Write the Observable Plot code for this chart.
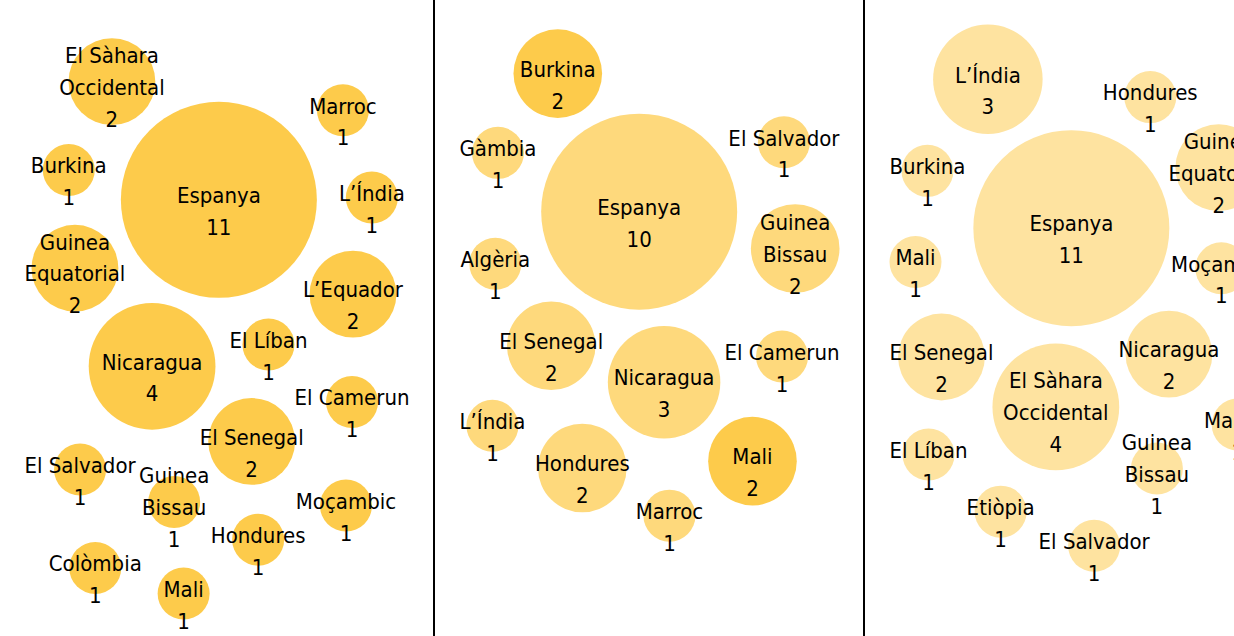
<!DOCTYPE html>
<html>
<head>
<meta charset="utf-8">
<script src="https://cdn.jsdelivr.net/npm/d3@7"></script>
<script src="https://cdn.jsdelivr.net/npm/@observablehq/plot@0.6"></script>
<style>
  html, body { margin: 0; padding: 0; background: #fff; overflow: hidden; }
  #wrap { display: flex; width: 1400px; align-items: flex-start; }
  .panel { flex: none; }
  .panel svg { display: block; }
</style>
</head>
<body>
<div id="wrap"></div>
<script>
// ---------- DATA ----------
const countries1 = ["Espanya", "Nicaragua", "El Sàhara Occidental", "El Senegal", "Guinea Equatorial", "L’Equador",
  "Guinea Bissau", "Burkina", "El Camerun", "Colòmbia", "L’Índia", "Hondures", "El Salvador", "El Líban", "Mali", "Marroc", "Moçambic"];
const values1 = [11, 4, 2, 2, 2, 2, 1, 1, 1, 1, 1, 1, 1, 1, 1, 1, 1];

const countries2 = ["Espanya", "Nicaragua", "Burkina", "Mali", "El Senegal", "Guinea Bissau", "Hondures",
  "Gàmbia", "El Camerun", "L’Índia", "El Salvador", "Marroc", "Algèria"];
const values2 = [10, 3, 2, 2, 2, 2, 2, 1, 1, 1, 1, 1, 1];
const highlighted2 = ["Burkina", "Mali"];

const countries3 = ["Espanya", "El Sàhara Occidental", "L’Índia", "Nicaragua", "El Senegal", "Guinea Equatorial",
  "Guinea Bissau", "Burkina", "Marroc", "El Líban", "Hondures", "El Salvador", "Mali", "Moçambic", "Etiòpia"];
const values3 = [11, 4, 3, 2, 2, 2, 1, 1, 1, 1, 1, 1, 1, 1, 1];

// ---------- STYLE ----------
const FONT = '"DejaVu Sans Condensed", "DejaVu Sans", sans-serif';
const FONT_SIZE = 22;
const BASE = "#FDCB4B";
const H = 660;

function wrapName(name) {
  if (name.length <= 12) return name;
  const mid = name.length / 2;
  let best = -1;
  for (let i = 0; i < name.length; i++) if (name[i] === " " && (best < 0 || Math.abs(i - mid) < Math.abs(best - mid))) best = i;
  return best < 0 ? name : name.slice(0, best) + "\n" + name.slice(best + 1);
}

const ctx = document.createElement("canvas").getContext("2d");
ctx.font = `${FONT_SIZE}px ${FONT}`;

function makePanel(countries, values, opts) {
  const W = opts.width;
  const rOpts = {type: "pow", exponent: 0.2, domain: [1, d3.max(values)], range: [26, 98]};
  let rs;
  try { rs = Plot.scale({r: rOpts}); } catch (e) { rs = null; }
  const rf = rs ? (v) => rs.apply(v) : d3.scalePow().exponent(0.2).domain(rOpts.domain).range(rOpts.range);

  const nodes = countries.map((c, i) => {
    const label = wrapName(c);
    const lines = label.split("\n");
    const lw = d3.max(lines, l => ctx.measureText(l).width);
    return {name: c, label, lines: lines.length, value: values[i], r: rf(values[i]), lw,
      hl: (opts.highlight || []).includes(c)};
  });
  const sorted = d3.sort(nodes, (a, b) => d3.descending(a.value, b.value));
  const rMax = d3.max(sorted, d => d.r), rMin = d3.min(sorted, d => d.r);
  const cx = W * 0.47, cy = 222;
  // smaller bubbles settle lower, the largest bubble anchors the top
  const ty = d => cy + Math.pow(1 - (d.r - rMin) / (rMax - rMin), 3) * 150;
  const golden = Math.PI * (3 - Math.sqrt(5));
  sorted.forEach((d, i) => {
    const rad = 10 * Math.sqrt(0.5 + i), a = i * golden;
    d.x = cx + rad * Math.cos(a);
    d.y = cy + rad * Math.sin(a);
    d.cr = Math.max(d.r + 9, 46, d.lw / 2 - 2);
  });
  const pull = d => 0.015 + 0.2 * Math.pow(d.r / rMax, 3);
  const N = 1500;
  const sim = d3.forceSimulation(sorted)
    .alpha(1)
    .alphaMin(0.0005)
    .alphaDecay(1 - Math.pow(0.0005, 1 / N))
    .velocityDecay(0.3)
    .force("x", d3.forceX(cx).strength(pull))
    .force("y", d3.forceY(ty).strength(pull))
    .force("collide", d3.forceCollide(d => d.cr).strength(1).iterations(6))
    .stop();
  const pad = 24;
  for (let i = 0; i < N; i++) {
    sim.tick();
    for (const d of sorted) {
      const hw = Math.max(d.r, d.lw / 2);
      d.x = Math.max(hw + pad, Math.min(W - hw - pad, d.x));
      d.y = Math.max(d.r + pad, Math.min(H - d.r - 5, d.y));
    }
  }

  const fillOf = d => d3.interpolateRgb("#ffffff", BASE)(d.hl ? 1 : opts.opacity);
  const textOpts = (dy, filter) => ({
    x: "x", y: "y", text: d => d.label + "\n" + d.value, filter,
    fontSize: FONT_SIZE, lineHeight: 1.45, dy, fill: "#000", fontFamily: FONT
  });
  return Plot.plot({
    width: W, height: H, margin: 0,
    style: {background: "transparent", fontFamily: FONT},
    x: {domain: [0, W], range: [0, W], axis: null},
    y: {domain: [0, H], range: [0, H], axis: null},
    r: rOpts,
    marks: [
      Plot.dot(sorted, {x: "x", y: "y", r: "value", fill: fillOf, stroke: null}),
      Plot.text(sorted, textOpts(9, d => d.lines === 1)),
      Plot.text(sorted, textOpts(3, d => d.lines > 1))
    ]
  });
}

const wrap = document.getElementById("wrap");
const panels = [
  {countries: countries1, values: values1, width: 433, opacity: 1, border: false},
  {countries: countries2, values: values2, width: 428, opacity: 0.73, highlight: highlighted2, border: true},
  {countries: countries3, values: values3, width: 430, opacity: 0.53, border: true}
];
for (const p of panels) {
  const div = document.createElement("div");
  div.className = "panel";
  if (p.border) div.style.borderLeft = "2px solid #000";
  div.style.width = p.width + "px";
  div.appendChild(makePanel(p.countries, p.values, p));
  wrap.appendChild(div);
}
</script>
</body>
</html>
